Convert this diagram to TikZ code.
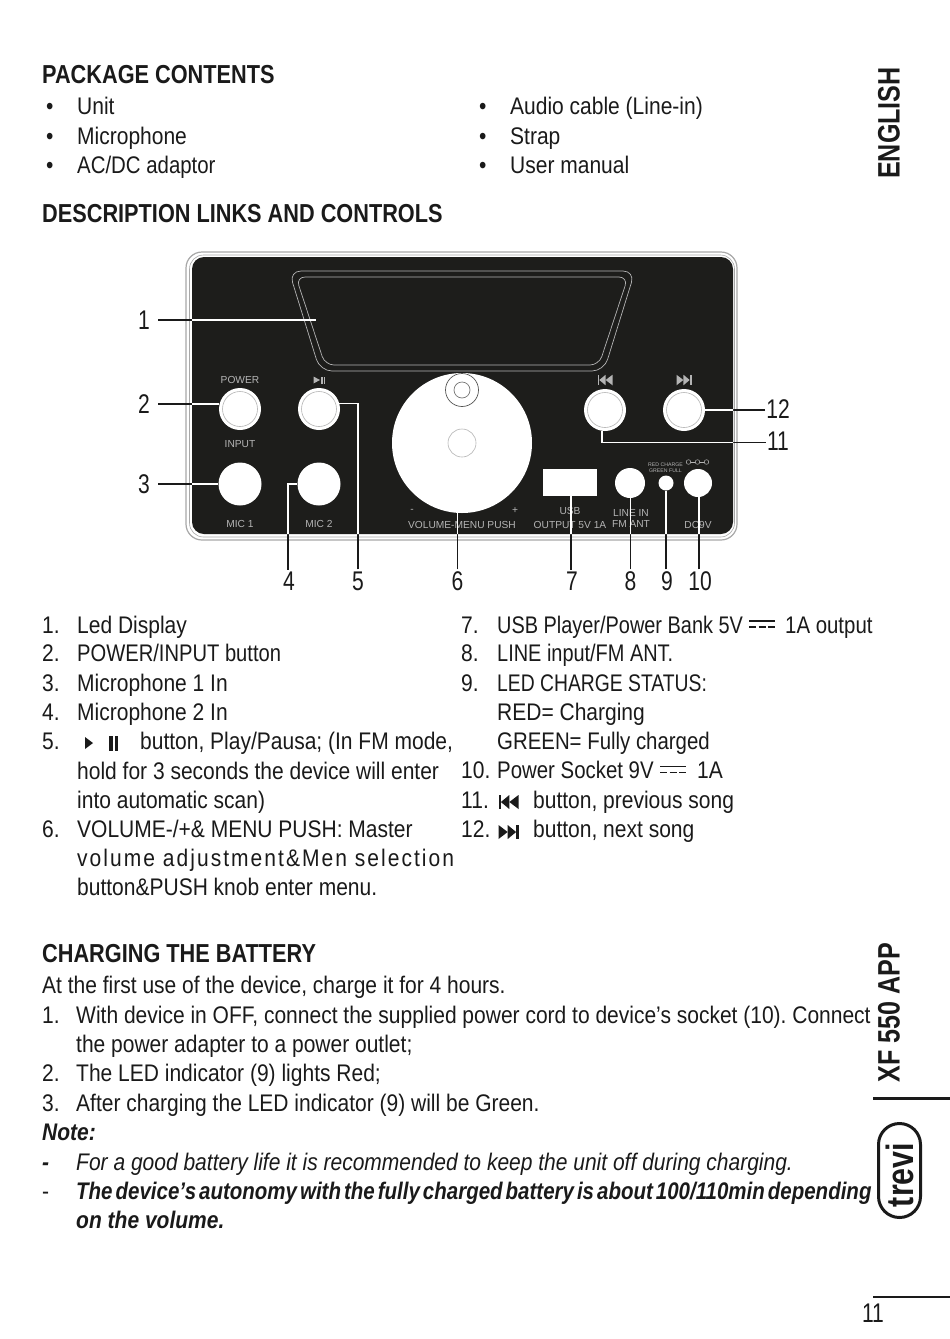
\documentclass[tikz,border=0pt]{standalone}
\usepackage{fontspec}
\setmainfont[FakeStretch=0.875]{Liberation Sans}
\newfontfamily\panelfont{Liberation Sans}
\newfontfamily\headfont[FakeStretch=0.835]{Liberation Sans}
\newfontfamily\digitfont[FakeStretch=0.78]{Liberation Sans}
\newfontfamily\sidefont[FakeStretch=0.81]{Liberation Sans}
\newfontfamily\logofont[FakeStretch=0.8]{Liberation Sans}
\usetikzlibrary{positioning}
\definecolor{ink}{HTML}{1A1A1A}
\definecolor{paneldark}{HTML}{1D1D1B}
\definecolor{panelgrey}{HTML}{B4B4B4}
\definecolor{framegrey}{HTML}{A8A8A8}
\newcommand{\listsize}{\frenchspacing\fontsize{24}{24}\selectfont}
\newcommand{\narrowed}[1]{\listsize\addfontfeature{FakeStretch=#1}}
\tikzset{
  txt/.style={anchor=base west,inner sep=0pt,yshift=1pt,text=ink,font=\listsize},
  head/.style={txt,font=\headfont\fontsize{26}{26}\selectfont\bfseries},
  side/.style={anchor=center,inner sep=0pt,rotate=90,text=ink,font=\sidefont\fontsize{31}{31}\selectfont\bfseries},
  digit/.style={anchor=center,inner sep=0pt,text=ink,font=\digitfont\fontsize{27}{27}\selectfont},
  paneltxt/.style={anchor=center,inner sep=0pt,text=panelgrey,font=\panelfont\fontsize{10.2}{10.2}\selectfont},
  hole/.style={circle,fill=white,inner sep=0pt,minimum size=#1},
  leadline/.style={line width=1.6pt,ink},
  prevmark/.pic={
    \fill (-10,-7) rectangle (-7.6,7);
    \fill (-7.6,0) -- (0.8,-7) -- (0.8,7) -- cycle;
    \fill (0.8,0) -- (10,-7) -- (10,7) -- cycle;
  },
  nextmark/.pic={
    \fill (10,-7) rectangle (7.6,7);
    \fill (7.6,0) -- (-0.8,-7) -- (-0.8,7) -- cycle;
    \fill (-0.8,0) -- (-10,-7) -- (-10,7) -- cycle;
  },
  dcmark/.pic={
    \draw[line width=1.5pt,ink] (-13,-3.2) -- (13,-3.2);
    \foreach \s in {-13,-3.5,6}
      \draw[line width=1.5pt,ink] (\s,3.2) -- ++(7,0);
  },
}
\newcommand{\callout}[1]{
  \draw[leadline] #1;
  \begin{scope}
    \clip[rounded corners=12] (192,257) rectangle (733,534);
    \draw[leadline,white] #1;
  \end{scope}
}
\begin{document}
\begin{tikzpicture}[x=1pt,y=-1pt]
  \useasboundingbox (0,0) rectangle (950,1339);
  \fill[white] (0,0) rectangle (950,1339);

  \node[head] (hcontents) at (42,84) {PACKAGE CONTENTS};
  \node[head] (hdesc) at (42,223) {DESCRIPTION LINKS AND CONTROLS};
  \node[head] (hcharge) at (42,963) {CHARGING THE BATTERY};
  \foreach \i/\y/\a/\b in {1/115/Unit/Audio cable (Line-in),2/145/Microphone/Strap,3/174/{\addfontfeature{FakeStretch=.85}AC\slash DC adaptor}/User manual}{
    \node[txt] (bula\i) at (46,\y) {•};
    \node[txt] (texa\i) at (77,\y) {\a};
    \node[txt] (bulb\i) at (479,\y) {•};
    \node[txt] (texb\i) at (510,\y) {\b};
  }

  \fill[white,draw=framegrey,line width=1.2pt,rounded corners=16] (186,252) rectangle (737,540);
  \draw[framegrey,line width=.6pt,rounded corners=14] (189.5,255) rectangle (734.5,537);
  \fill[paneldark,rounded corners=12] (192,257) rectangle (733,534);
  \draw[panelgrey,line width=.7pt,rounded corners=12] (289,271) -- (635,271) -- (604,371) -- (320,371) -- cycle;
  \draw[panelgrey,line width=.7pt,rounded corners=9] (296,277) -- (628,277) -- (599,365) -- (325,365) -- cycle;

  \node[hole=42pt] (power) at (240,409) {};
  \node[hole=42pt] (play) at (319,409) {};
  \node[hole=43pt] (mica) at (240,484) {};
  \node[hole=43pt] (micb) at (319,484) {};
  \node[hole=42pt] (prev) at (605,410) {};
  \node[hole=42pt] (next) at (684,410) {};
  \node[hole=140pt] (knob) at (462,443) {};
  \node[hole=30pt] (linein) at (630,483) {};
  \node[hole=15pt] (led) at (666,483) {};
  \node[hole=28pt] (dcin) at (698,483) {};
  \node[fill=white,inner sep=0pt,minimum width=54pt,minimum height=27pt] (usb) at (570,482.5) {};
  \foreach \c in {power,play,prev,next}
    \draw[panelgrey,line width=.6pt] (\c) circle[radius=17.5];
  \draw[panelgrey,line width=.6pt] (knob) circle[radius=14];
  \draw[paneldark!75,line width=.7pt] (462,390) circle[radius=16.5];
  \draw[paneldark!60,line width=.7pt] (462,390) circle[radius=8];

  \node[paneltxt] (lpower) at (240,380) {POWER};
  \node[paneltxt] (linput) at (240,444) {INPUT};
  \node[paneltxt] (lmica) at (240,524) {MIC 1};
  \node[paneltxt] (lmicb) at (319,524) {MIC 2};
  \node[paneltxt] (lminus) at (412,511) {-};
  \node[paneltxt] (lplus) at (515,511) {+};
  \node[paneltxt] (lvol) at (462,525) {VOLUME-MENU PUSH};
  \node[paneltxt] (lusb) at (570,511) {USB};
  \node[paneltxt] (lout) at (570,525) {OUTPUT 5V 1A};
  \node[paneltxt] (lline) at (631,513) {LINE IN};
  \node[paneltxt] (lfm) at (631,524) {FM ANT};
  \node[paneltxt] (ldc) at (698,525) {DC9V};
  \node[paneltxt,font=\panelfont\fontsize{5.2}{5.2}\selectfont] (lred) at (665.5,465) {RED CHARGE};
  \node[paneltxt,font=\panelfont\fontsize{5.2}{5.2}\selectfont] (lgreen) at (665.5,471) {GREEN FULL};
  \fill[panelgrey] (313.5,376.5) -- (320,380) -- (313.5,383.5) -- cycle;
  \fill[panelgrey] (321,376.5) rectangle (322.6,383.5);
  \fill[panelgrey] (323.8,376.5) rectangle (325.4,383.5);
  \pic[color=panelgrey,scale=.75] (mprev) at (605,380) {prevmark};
  \pic[color=panelgrey,scale=.75] (mnext) at (684,380) {nextmark};
  \draw[panelgrey,line width=.5pt] (688.5,462) -- (707,462);
  \foreach \s in {688.5,697.5,706.5}
    \draw[panelgrey,fill=paneldark,line width=.5pt] (\s,462) circle[radius=2.3];

  \node[digit] (n1) at (144,320) {1};
  \node[digit] (n2) at (144,404) {2};
  \node[digit] (n3) at (144,484) {3};
  \node[digit] (n4) at (289,581) {4};
  \node[digit] (n5) at (358,581) {5};
  \node[digit] (n6) at (457.5,581) {6};
  \node[digit] (n7) at (572,581) {7};
  \node[digit] (n8) at (630.5,581) {8};
  \node[digit] (n9) at (667,581) {9};
  \node[digit] (n10) at (700,581) {10};
  \node[digit] (n11) at (778,441.5) {11};
  \node[digit] (n12) at (778,409) {12};
  \coordinate (disptip) at (316,320);

  \callout{(n1.east) ++(8,0) -- (disptip)}
  \callout{(n2.east) ++(8,0) -- (n2 -| power.west)}
  \callout{(n3.east) ++(8,0) -- (mica.west)}
  \callout{(n4.north) ++(-1,-2) |- (micb.west)}
  \callout{(n5.north) ++(0,-2) |- (play.15)}
  \callout{(n6.north) ++(0,-2) -- (n6 |- knob.south)}
  \callout{(n7.north) ++(-1,-2) -- (571,496)}
  \callout{(n8.north) ++(0,-2) -- (n8 |- linein.south)}
  \callout{(n9.north) ++(-1,-2) -- (666,490.5)}
  \callout{(n10.north) ++(-1,-2) -- (699,497)}
  \callout{(n11.west) ++(-1,1) -| (prev.262)}
  \callout{(n12.west) ++(-1,1) -- (next.east)}

  \foreach \n/\y/\t in {1/634/Led Display,2/662/{\addfontfeature{FakeStretch=.84}POWER\slash INPUT button},3/692/Microphone 1 In,4/721/Microphone 2 In}{
    \node[txt] (lnum\n) at (42,\y) {\n.};
    \node[txt] (ltxt\n) at (77,\y) {\t};
  }
  \node[txt] (lnum5) at (42,750) {5.};
  \fill[ink] (85,737) -- (93,743) -- (85,749) -- cycle;
  \fill[ink] (109,736) rectangle (112.5,751);
  \fill[ink] (114.5,736) rectangle (118,751);
  \node[txt] (ltxt5) at (140,750) {button, Play/Pausa; (In FM mode,};
  \node[txt] (ltxt5b) at (77,780) {hold for 3 seconds the device will enter};
  \node[txt] (ltxt5c) at (77,809) {into automatic scan)};
  \node[txt] (lnum6) at (42,838) {6.};
  \node[txt] (ltxt6) at (77,838) {VOLUME-/+\& MENU PUSH: Master};
  \node[txt,font=\listsize\addfontfeature{LetterSpace=8.5}] (ltxt6b) at (77,867) {volume adjustment\&Men selection};
  \node[txt] (ltxt6c) at (77,896) {button\&PUSH knob enter menu.};

  \node[txt] (rnum7) at (461,634) {7.};
  \node[txt,font=\narrowed{.83}] (rtxt7) at (497,634) {USB Player/Power Bank 5V};
  \pic (dca) at (762,624) {dcmark};
  \node[txt,font=\narrowed{.85}] (rtxt7b) at (785,634) {1A output};
  \node[txt] (rnum8) at (461,662) {8.};
  \node[txt,font=\narrowed{.83}] (rtxt8) at (497,662) {LINE input/FM ANT.};
  \node[txt] (rnum9) at (461,692) {9.};
  \node[txt,font=\narrowed{.805}] (rtxt9) at (497,692) {LED CHARGE STATUS:};
  \node[txt] (rtxt9b) at (497,721) {RED= Charging};
  \node[txt,font=\narrowed{.85}] (rtxt9c) at (497,750) {GREEN= Fully charged};
  \node[txt] (rnum10) at (461,779) {10.};
  \node[txt,font=\narrowed{.85}] (rtxt10) at (497,779) {Power Socket 9V};
  \pic (dcb) at (673,769.5) {dcmark};
  \node[txt] (rtxt10b) at (697,779) {1A};
  \node[txt] (rnum11) at (461,809) {11.};
  \pic[color=ink] (iprev) at (508.5,802) {prevmark};
  \node[txt] (rtxt11) at (533,809) {button, previous song};
  \node[txt] (rnum12) at (461,838) {12.};
  \pic[color=ink] (inext) at (508.5,832) {nextmark};
  \node[txt] (rtxt12) at (533,838) {button, next song};

  \node[txt] (cintro) at (42,994) {At the first use of the device, charge it for 4 hours.};
  \node[txt] (cnum1) at (42,1024) {1.};
  \node[txt] (ctxt1) at (76,1024) {With device in OFF, connect the supplied power cord to device’s socket (10). Connect};
  \node[txt] (ctxt1b) at (76,1053) {the power adapter to a power outlet;};
  \node[txt] (cnum2) at (42,1082) {2.};
  \node[txt] (ctxt2) at (76,1082) {The LED indicator (9) lights Red;};
  \node[txt] (cnum3) at (42,1112) {3.};
  \node[txt] (ctxt3) at (76,1112) {After charging the LED indicator (9) will be Green.};
  \node[txt,font=\listsize\bfseries\itshape] (cnote) at (42,1141) {Note:};
  \node[txt,font=\listsize\bfseries\itshape] (cdasha) at (42,1171) {-};
  \node[txt,font=\listsize\itshape] (cnotea) at (76,1171) {For a good battery life it is recommended to keep the unit off during charging.};
  \node[txt] (cdashb) at (42,1200) {-};
  \node[txt,font=\listsize\bfseries\itshape\addfontfeature{FakeStretch=.854}] (cnoteb) at (76,1200) {\spaceskip=3pt\relax The device’s autonomy with the fully charged battery is about 100/110min depending};
  \node[txt,font=\listsize\bfseries\itshape] (cnotec) at (76,1229) {on the volume.};

  \node[side] (sideeng) at (889,123) {ENGLISH};
  \node[side] (sidexf) at (889,1012.5) {XF 550 APP};
  \fill[ink] (873,1096.5) rectangle (950,1099.5);
  \fill[ink] (873,1295.5) rectangle (950,1298);
  \node[digit] (pagenum) at (873,1313) {11};
  \draw[ink,line width=3pt,rounded corners=21] (878.5,1123.5) rectangle (920.5,1217.5);
  \node[anchor=base,inner sep=0pt,rotate=90,text=ink,font=\logofont\fontsize{38}{38}\selectfont\bfseries] (logo) at (913.5,1175) {trevi};
\end{tikzpicture}
\end{document}
